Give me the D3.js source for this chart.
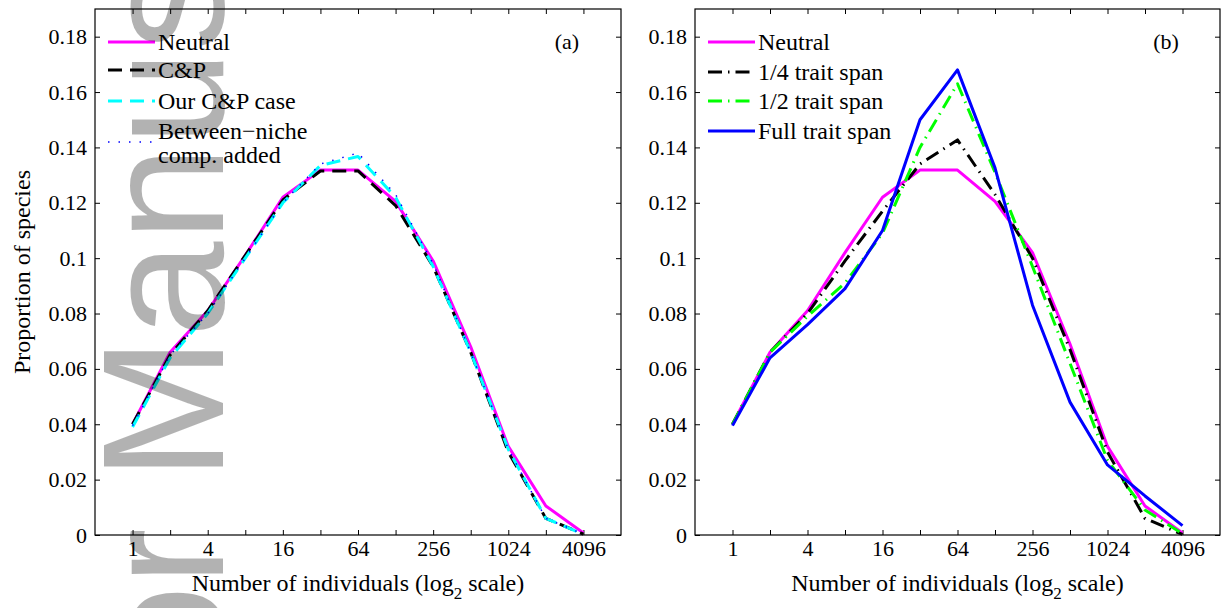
<!DOCTYPE html>
<html>
<head>
<meta charset="utf-8">
<script src="https://cdn.jsdelivr.net/npm/d3@7"></script>
<style>
  body { margin: 0; background: #fff; }
  svg text { font-family: "Liberation Serif", "Times New Roman", serif; fill: #000; }
  .axis path, .axis line { stroke: #000; stroke-width: 1; }
  .axis text { font-size: 22px; font-family: "Liberation Serif", "Times New Roman", serif; }
</style>
</head>
<body>
<div id="chart"></div>
<script>
// bins: log2 of number of individuals
var bins = [0, 1, 2, 3, 4, 5, 6, 7, 8, 9, 10, 11, 12];
var xTickLabels = ["1", "4", "16", "64", "256", "1024", "4096"];
var yTicks = [0, 0.02, 0.04, 0.06, 0.08, 0.1, 0.12, 0.14, 0.16, 0.18];

// panel (a)
var neutral  = [0.040, 0.066, 0.081, 0.101, 0.122, 0.1318, 0.1318, 0.1205, 0.099, 0.068, 0.032, 0.0105, 0.0007];
var cp       = [0.040, 0.065, 0.081, 0.101, 0.121, 0.1315, 0.1315, 0.119, 0.097, 0.066, 0.030, 0.006, 0.0003];
var ourCP    = [0.039, 0.064, 0.080, 0.100, 0.120, 0.1335, 0.1367, 0.122, 0.097, 0.066, 0.031, 0.006, 0.0003];
var between  = [0.0395, 0.065, 0.080, 0.100, 0.120, 0.134, 0.138, 0.123, 0.098, 0.066, 0.031, 0.006, 0.0003];

// panel (b)
var neutralB = [0.040, 0.066, 0.081, 0.102, 0.122, 0.1318, 0.1318, 0.1205, 0.102, 0.069, 0.032, 0.0105, 0.0007];
var quarter  = [0.040, 0.066, 0.080, 0.099, 0.117, 0.134, 0.1427, 0.123, 0.100, 0.067, 0.030, 0.006, 0.0002];
var half     = [0.040, 0.066, 0.079, 0.091, 0.109, 0.140, 0.163, 0.131, 0.097, 0.062, 0.027, 0.009, 0.0005];
var full     = [0.0395, 0.064, 0.076, 0.089, 0.110, 0.150, 0.168, 0.1326, 0.083, 0.048, 0.0253, 0.0141, 0.0034];

var width = 1222, height = 608;
var plotTop = 9, plotBottom = 535;

var svg = d3.select("#chart").append("svg")
    .attr("width", width)
    .attr("height", height);

var yScale = d3.scaleLinear().domain([0, 0.19]).range([plotBottom, plotTop]);

var panels = [
  { left: 95, right: 621, tag: "(a)", legendY: [42, 70, 101, 142],
    series: [
      { name: "Neutral", values: neutral, color: "#ff00ff", dash: null, w: 3 },
      { name: "C&P", values: cp, color: "#000000", dash: "14,8", w: 3 },
      { name: "Our C&P case", values: ourCP, color: "#00ffff", dash: "14,8", w: 3 },
      { name: ["Between\u2212niche", "comp. added"], values: between, color: "#0000ff", dash: "1.5,9", w: 1.5 }
    ] },
  { left: 695, right: 1220, tag: "(b)", legendY: [42, 72, 101, 131],
    series: [
      { name: "Neutral", values: neutralB, color: "#ff00ff", dash: null, w: 3 },
      { name: "1/4 trait span", values: quarter, color: "#000000", dash: "14,6,1.5,6", w: 3 },
      { name: "1/2 trait span", values: half, color: "#00ff00", dash: "14,6,1.5,6", w: 3 },
      { name: "Full trait span", values: full, color: "#0000ff", dash: null, w: 3 }
    ] }
];

panels.forEach(function(p) {
  var xScale = d3.scaleLinear().domain([-1, 13]).range([p.left, p.right]);
  var g = svg.append("g");

  var line = d3.line()
    .x(function(d, i) { return xScale(bins[i]); })
    .y(function(d) { return yScale(d); });

  // frame
  g.append("rect")
    .attr("x", p.left).attr("y", plotTop)
    .attr("width", p.right - p.left).attr("height", plotBottom - plotTop)
    .attr("fill", "none").attr("stroke", "#000").attr("stroke-width", 1.2);

  // bottom axis, ticks on every bin, labels on even bins
  g.append("g").attr("class", "axis")
    .attr("transform", "translate(0," + plotBottom + ")")
    .call(d3.axisBottom(xScale).tickValues(bins).tickSize(-5).tickPadding(5)
      .tickFormat(function(d) { return d % 2 === 0 ? xTickLabels[d / 2] : ""; }));
  g.append("g").attr("class", "axis")
    .attr("transform", "translate(0," + plotTop + ")")
    .call(d3.axisTop(xScale).tickValues(bins).tickSize(-5).tickFormat(""));

  g.append("g").attr("class", "axis")
    .attr("transform", "translate(" + p.left + ",0)")
    .call(d3.axisLeft(yScale).tickValues(yTicks).tickSize(-5).tickPadding(8)
      .tickFormat(function(d) { return String(+d.toFixed(2)); }));
  g.append("g").attr("class", "axis")
    .attr("transform", "translate(" + p.right + ",0)")
    .call(d3.axisRight(yScale).tickValues(yTicks).tickSize(-5).tickFormat(""));

  g.selectAll(".axis .domain").remove();

  // lines
  p.series.forEach(function(s) {
    g.append("path")
      .datum(s.values)
      .attr("fill", "none")
      .attr("stroke", s.color)
      .attr("stroke-width", s.w)
      .attr("stroke-dasharray", s.dash)
      .attr("stroke-linejoin", "round")
      .attr("d", line);
  });

  // legend
  var lx = p.left + 13;
  p.series.forEach(function(s, i) {
    var y = p.legendY[i];
    g.append("line")
      .attr("x1", lx).attr("x2", lx + 47)
      .attr("y1", y).attr("y2", y)
      .attr("stroke", s.color)
      .attr("stroke-width", s.w)
      .attr("stroke-dasharray", s.dash);
    var t = g.append("text")
      .style("font-size", "24px");
    if (Array.isArray(s.name)) {
      t.append("tspan").attr("x", lx + 50).attr("y", y - 3).text(s.name[0]);
      t.append("tspan").attr("x", lx + 50).attr("y", y + 21).text(s.name[1]);
    } else {
      t.attr("x", lx + 50).attr("y", y + 8).text(s.name);
    }
  });

  // panel tag
  g.append("text")
    .attr("x", p.right - 54).attr("y", 49)
    .attr("text-anchor", "middle")
    .style("font-size", "22px")
    .text(p.tag);

  // x title
  var xt = g.append("text")
    .attr("x", (p.left + p.right) / 2)
    .attr("y", 591)
    .attr("text-anchor", "middle")
    .style("font-size", "24px");
  xt.append("tspan").text("Number of individuals (log");
  xt.append("tspan").attr("dy", 8).style("font-size", "17px").text("2");
  xt.append("tspan").attr("dy", -8).text(" scale)");
});

// y title
svg.append("text")
  .attr("transform", "translate(30," + ((plotTop + plotBottom) / 2) + ") rotate(-90)")
  .attr("text-anchor", "middle")
  .style("font-size", "24px")
  .text("Proportion of species");

// watermark
svg.append("text")
  .attr("transform", "translate(223,1035) rotate(-90)")
  .style("font-family", "'Liberation Sans', Arial, sans-serif")
  .style("font-size", "172px")
  .style("fill", "#000")
  .style("fill-opacity", 0.3)
  .text("Author Manuscript");
</script>
</body>
</html>
